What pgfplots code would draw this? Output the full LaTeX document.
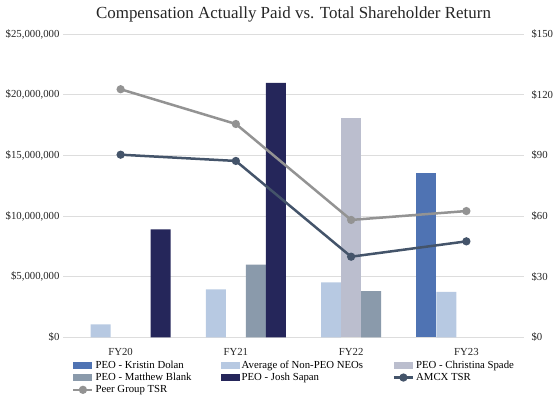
\documentclass[border=0pt]{standalone}
\usepackage{fontspec}
\setmainfont{Liberation Serif}
\usepackage{pgfplots}
\pgfplotsset{compat=1.18}
\definecolor{cDolan}{HTML}{4F73B3}
\definecolor{cAvg}{HTML}{B7C9E2}
\definecolor{cSpade}{HTML}{BBBECE}
\definecolor{cBlank}{HTML}{8A9AAB}
\definecolor{cSapan}{HTML}{25265A}
\definecolor{cAMCX}{HTML}{44546A}
\definecolor{cPeer}{HTML}{939393}
\definecolor{cGrid}{HTML}{DDDDDD}
\pgfplotsset{
  barleg/.style={legend image code/.code={\fill[##1] (0bp,-3.5bp) rectangle (19bp,3.5bp);}},
  lineleg/.style={legend image code/.code={\draw[mark repeat=2,mark phase=2,##1] plot coordinates {(0bp,0bp) (9.5bp,0bp) (19bp,0bp)};}},
  common/.style={
    scale only axis, width=461bp, height=303bp,
    xmin=-0.5, xmax=3.5,
    axis line style={draw=none},
    tick style={draw=none},
    scaled y ticks=false,
    ticklabel style={font=\fontsize{10.8}{12}\selectfont, text=black!85},
  },
}
\begin{document}
\begin{tikzpicture}
\useasboundingbox (-63bp,-57.7bp) rectangle (493bp,337.3bp);
\begin{axis}[common,
  ymin=0, ymax=25000000,
  ybar=0pt, bar width=20bp,
  xtick={0,1,2,3}, xticklabels={FY20,FY21,FY22,FY23},
  xticklabel style={yshift=-3bp},
  ytick={0,5000000,10000000,15000000,20000000,25000000},
  yticklabels={{\$0},{\$5,000,000},{\$10,000,000},{\$15,000,000},{\$20,000,000},{\$25,000,000}},
  ymajorgrids, grid style={cGrid, line width=0.8bp},
  title={Compensation Actually Paid vs. Total Shareholder Return},
  title style={font=\fontsize{17}{20}\selectfont, text=black!85, yshift=3bp},
]
% PEO - Kristin Dolan
\addplot[fill=cDolan, draw=none] coordinates {(3,13560000)};
% Average of Non-PEO NEOs
\addplot[fill=cAvg, draw=none] coordinates {(0,1070000) (1,3960000) (2,4540000) (3,3740000)};
% PEO - Christina Spade
\addplot[fill=cSpade, draw=none] coordinates {(2,18070000)};
% PEO - Matthew Blank
\addplot[fill=cBlank, draw=none] coordinates {(1,5990000) (2,3820000)};
% PEO - Josh Sapan
\addplot[fill=cSapan, draw=none] coordinates {(0,8910000) (1,21000000)};
\end{axis}
\begin{axis}[common,
  ymin=0, ymax=150,
  xtick=\empty,
  axis y line*=right,
  ytick={0,30,60,90,120,150},
  yticklabels={{\$0},{\$30},{\$60},{\$90},{\$120},{\$150}},
  yticklabel style={xshift=4bp},
  legend columns=3,
  legend cell align=left,
  legend style={at={(0,0)}, anchor=north west, xshift=6bp, yshift=-20bp,
    draw=none, fill=none, font=\fontsize{10.8}{12}\selectfont,
    nodes={inner ysep=1bp, inner xsep=2bp}, row sep=1.5bp, column sep=0bp},
]
\addlegendimage{barleg, fill=cDolan, draw=none}
\addlegendentry{\makebox[123bp][l]{PEO - Kristin Dolan}}
\addlegendimage{barleg, fill=cAvg, draw=none}
\addlegendentry{\makebox[149bp][l]{Average of Non-PEO NEOs}}
\addlegendimage{barleg, fill=cSpade, draw=none}
\addlegendentry{PEO - Christina Spade}
\addlegendimage{barleg, fill=cBlank, draw=none}
\addlegendentry{\makebox[123bp][l]{PEO - Matthew Blank}}
\addlegendimage{barleg, fill=cSapan, draw=none}
\addlegendentry{\makebox[149bp][l]{PEO - Josh Sapan}}
\addplot[lineleg, cAMCX, line width=2.5bp, mark=*, mark size=2.8bp, mark options={fill=cAMCX}]
  coordinates {(0,90.4) (1,87.3) (2,39.9) (3,47.5)};
\addlegendentry{AMCX TSR}
\addplot[lineleg, cPeer, line width=2.5bp, mark=*, mark size=2.8bp, mark options={fill=cPeer}]
  coordinates {(0,122.8) (1,105.6) (2,58.1) (3,62.5)};
\addlegendentry{Peer Group TSR}
\end{axis}
\end{tikzpicture}
\end{document}
